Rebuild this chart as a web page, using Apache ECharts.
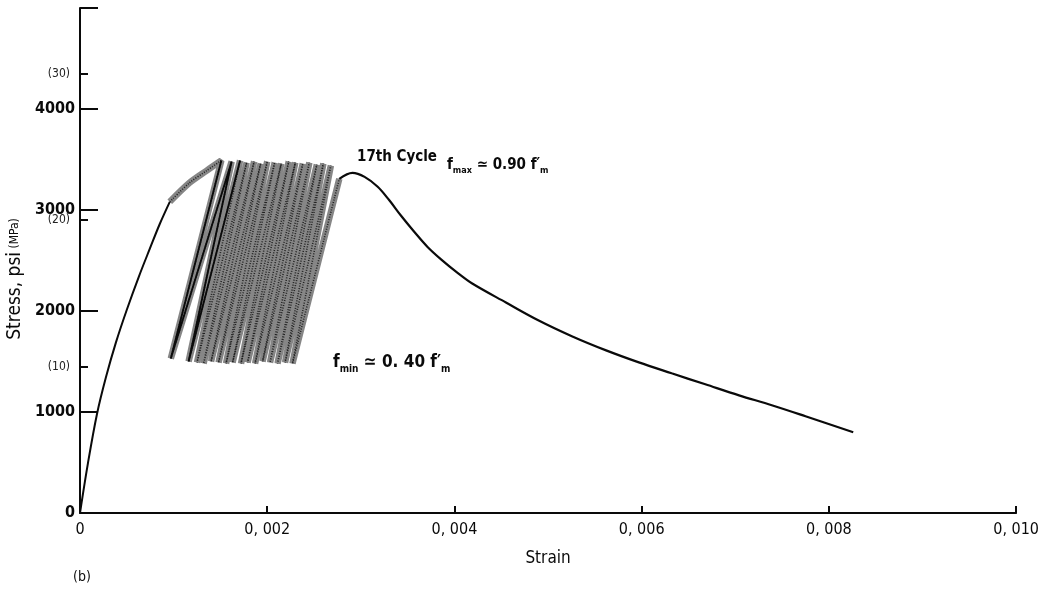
<!DOCTYPE html>
<html>
<head>
<meta charset="utf-8">
<script src="https://cdn.jsdelivr.net/npm/echarts@6/dist/echarts.min.js"></script>
<style>
  html, body { margin: 0; padding: 0; background: #fff; }
  #chart { width: 1042px; height: 596px; }
</style>
</head>
<body>
<div id="chart"></div>
<script>
// ---- axis ticks ----
const strainTickLabels = ['0', '0, 002', '0, 004', '0, 006', '0, 008', '0, 010'];
const psiTickLabels = ['0', '1000', '2000', '3000', '4000', ''];
const mpaTickLabels = ['', '(10)', '(20)', '(30)', ''];
const PSI_PER_MPA = 145.038;

// ---- first loading branch (solid line) ----
const loadStrain = [0, 0.000085, 0.000181, 0.000277, 0.000384, 0.000501, 0.000629, 0.000746, 0.000853, 0.000959];
const loadStress = [0, 494, 978, 1343, 1689, 2015, 2341, 2617, 2864, 3081];

// upper end of the first loading, drawn together with the cycles
const approachStrain = [0.00117, 0.00135];
const approachStress = [3269, 3388];

// ---- cycles 1-16: top of each loop (f_max) and bottom (f_min) ----
const cycleTopStrain = [0.00151, 0.00162, 0.00171, 0.00178, 0.00186, 0.00193, 0.00200, 0.00208,
                        0.00215, 0.00223, 0.00230, 0.00238, 0.00245, 0.00253, 0.00260, 0.00268];
const cycleTopStress = [3490, 3480, 3490, 3470, 3480, 3460, 3480, 3470,
                        3460, 3480, 3470, 3460, 3470, 3450, 3460, 3440];
const cycleBottomStrain = [0.00097, 0.00116, 0.00125, 0.00132, 0.00140, 0.00148, 0.00156, 0.00163,
                           0.00172, 0.00179, 0.00187, 0.00195, 0.00203, 0.00211, 0.00219, 0.00227];
const cycleBottomStress = [1530, 1500, 1490, 1480, 1500, 1490, 1480, 1490,
                           1480, 1490, 1480, 1500, 1490, 1480, 1490, 1480];

// ---- 17th cycle: reloading peak and descending branch ----
const finalStrain = [0.00277, 0.00291, 0.00304, 0.00318, 0.00330, 0.00343, 0.00357, 0.00371, 0.00386,
                     0.00403, 0.00419, 0.00455, 0.00490, 0.00526, 0.00562, 0.00597, 0.00632, 0.00668,
                     0.00704, 0.00739, 0.00775, 0.00826];
const finalStress = [3309, 3368, 3328, 3230, 3101, 2943, 2785, 2637, 2509,
                     2380, 2272, 2084, 1906, 1748, 1610, 1491, 1383, 1274,
                     1165, 1067, 958, 800];

// ---- build point lists ----
const zip = (xs, ys) => xs.map((x, i) => [x, ys[i]]);

const loadPts = zip(loadStrain, loadStress);
const cyclePts = [loadPts[loadPts.length - 1]].concat(zip(approachStrain, approachStress));
for (let i = 0; i < cycleTopStrain.length; i++) {
  cyclePts.push([cycleTopStrain[i], cycleTopStress[i]]);
  cyclePts.push([cycleBottomStrain[i], cycleBottomStress[i]]);
}
const finalPts = zip(finalStrain, finalStress);
cyclePts.push(finalPts[0]);

// the first two loops come out as plain dark lines
const firstLoopsPts = [];
for (let i = 0; i < 2; i++) {
  firstLoopsPts.push([cycleTopStrain[i], cycleTopStress[i]]);
  firstLoopsPts.push([cycleBottomStrain[i], cycleBottomStress[i]]);
}
firstLoopsPts.push([cycleTopStrain[2], cycleTopStress[2]]);

const FONT = "'DejaVu Sans Condensed', 'Liberation Sans Narrow', 'DejaVu Sans', sans-serif";
const INK = '#0a0a0a';

const chart = echarts.init(document.getElementById('chart'), null, { renderer: 'canvas' });

chart.setOption({
  backgroundColor: '#fff',
  animation: false,
  grid: { left: 80, right: 24, top: 8, bottom: 83, containLabel: false },
  xAxis: {
    type: 'value',
    min: 0, max: 0.010, interval: 0.002,
    name: 'Strain',
    nameLocation: 'middle',
    nameGap: 37,
    nameTextStyle: { fontFamily: FONT, fontSize: 17, color: INK },
    axisLine: { lineStyle: { color: INK, width: 2 } },
    axisTick: { inside: true, length: 7, lineStyle: { color: INK, width: 2 } },
    axisLabel: {
      fontFamily: FONT, fontSize: 16, color: INK, margin: 9,
      formatter: (v, idx) => strainTickLabels[idx]
    },
    splitLine: { show: false }
  },
  yAxis: [
    {
      type: 'value',
      min: 0, max: 5000, interval: 1000,
      axisLine: { lineStyle: { color: INK, width: 2 } },
      axisTick: { inside: true, length: 18, lineStyle: { color: INK, width: 2 } },
      axisLabel: {
        fontFamily: FONT, fontSize: 16, fontWeight: 'bold', color: INK, margin: 5,
        formatter: (v, idx) => psiTickLabels[idx]
      },
      splitLine: { show: false }
    },
    {
      type: 'value',
      position: 'left',
      min: 0, max: 5000 / PSI_PER_MPA, interval: 10,
      axisLine: { show: false },
      axisTick: { inside: true, length: 8, lineStyle: { color: INK, width: 2 } },
      axisLabel: {
        fontFamily: FONT, fontSize: 12, color: '#222', margin: 10,
        formatter: (v, idx) => mpaTickLabels[idx]
      },
      splitLine: { show: false }
    }
  ],
  series: [
    {
      name: 'first loading',
      type: 'line',
      data: loadPts,
      smooth: 0.35,
      showSymbol: false,
      lineStyle: { color: INK, width: 2 }
    },
    {
      // the sixteen loops: broad soft grey strokes that pile up into a dark band
      name: 'cycles',
      type: 'line',
      data: cyclePts,
      smooth: 0.3,
      showSymbol: false,
      lineStyle: { color: 'rgba(35,35,35,0.55)', width: 6.5 }
    },
    {
      // fine speckle laid over the same loops
      name: 'cycles speckle',
      type: 'line',
      data: cyclePts,
      smooth: 0.3,
      showSymbol: false,
      lineStyle: { color: 'rgba(0,0,0,0.75)', width: 1.6, type: [1, 1.5] }
    },
    {
      name: 'first loops',
      type: 'line',
      data: firstLoopsPts,
      smooth: 0.3,
      showSymbol: false,
      lineStyle: { color: INK, width: 1.8 }
    },
    {
      name: '17th cycle',
      type: 'line',
      data: finalPts,
      smooth: 0.35,
      showSymbol: false,
      lineStyle: { color: INK, width: 2.2 }
    }
  ],
  graphic: [
    {
      type: 'text', x: 15, y: 279, rotation: Math.PI / 2,
      style: {
        text: '{a|Stress, psi} {b|(MPa)}',
        textAlign: 'center', textVerticalAlign: 'middle',
        fill: INK,
        rich: {
          a: { fontFamily: FONT, fontSize: 19, fill: INK },
          b: { fontFamily: FONT, fontSize: 12, fill: INK }
        }
      }
    },
    {
      type: 'text', x: 73, y: 577,
      style: { text: '(b)', font: '14px ' + FONT, fill: INK, textVerticalAlign: 'middle' }
    },
    {
      type: 'text', x: 357, y: 157,
      style: { text: '17th Cycle', font: 'bold 15px ' + FONT, fill: INK, textVerticalAlign: 'middle' }
    },
    {
      type: 'text', x: 447, y: 165,
      style: {
        text: '{f|f}{s|max}{f| \u2243 0.90 f\u2032}{s|m}',
        textVerticalAlign: 'middle',
        rich: {
          f: { fontFamily: FONT, fontSize: 15, fontWeight: 'bold', lineHeight: 20, fill: INK },
          s: { fontFamily: FONT, fontSize: 9, fontWeight: 'bold', lineHeight: 20, verticalAlign: 'bottom', fill: INK }
        }
      }
    },
    {
      type: 'text', x: 333, y: 363,
      style: {
        text: '{f|f}{s|min}{f| \u2243 0. 40 f\u2032}{s|m}',
        textVerticalAlign: 'middle',
        rich: {
          f: { fontFamily: FONT, fontSize: 17, fontWeight: 'bold', lineHeight: 22, fill: INK },
          s: { fontFamily: FONT, fontSize: 10, fontWeight: 'bold', lineHeight: 22, verticalAlign: 'bottom', fill: INK }
        }
      }
    }
  ]
});
</script>
</body>
</html>
